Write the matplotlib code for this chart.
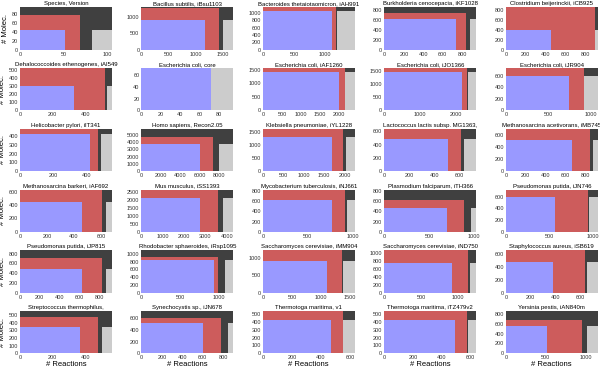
import matplotlib
matplotlib.use("Agg")
import matplotlib.pyplot as plt
from matplotlib.ticker import MaxNLocator

titles = [
    "Species, Version", "Bacillus subtilis, iBsu1103", "Bacteroides thetaiotaomicron, iAH991",
    "Burkholderia cenocepacia, iKF1028", "Clostridium beijerinckii, iCB925",
    "Dehalococcoides ethenogenes, iAI549", "Escherichia coli, core", "Escherichia coli, iAF1260",
    "Escherichia coli, iJO1366", "Escherichia coli, iJR904",
    "Helicobacter pylori, iIT341", "Homo sapiens, Recon2.05", "Klebsiella pneumoniae, iYL1228",
    "Lactococcus lactis subsp. MG1363,", "Methanosarcina acetivorans, iMB745",
    "Methanosarcina barkeri, iAF692", "Mus musculus, iSS1393", "Mycobacterium tuberculosis, iNJ661",
    "Plasmodium falciparum, iTH366", "Pseudomonas putida, iJN746",
    "Pseudomonas putida, iJP815", "Rhodobacter sphaeroides, iRsp1095", "Saccharomyces cerevisiae, iMM904",
    "Saccharomyces cerevisiae, iND750", "Staphylococcus aureus, iSB619",
    "Streptococcus thermophilus,", "Synechocystis sp., iJN678", "Thermotoga maritima, v1",
    "Thermotoga maritima, iTZ479v2", "Yersinia pestis, iAN840m",
]
total_rx  = [105, 1700, 1480, 943, 925, 560, 95, 2400, 2560, 1080,
             554, 9440, 2250, 730, 925, 680, 4300, 1020, 1030, 1055,
             926, 1183, 1580, 1250, 740, 561, 897, 632, 640, 1148]
total_mol = [95, 1310, 1150, 857, 850, 530, 72, 1570, 1600, 740,
             485, 5820, 1640, 640, 700, 630, 2650, 826, 830, 720,
             870, 1090, 1220, 1055, 650, 553, 720, 540, 540, 860]
red_rx    = [69, 1435, 1185, 843, 900, 519, 72, 2144, 2300, 920,
             470, 7350, 1970, 613, 850, 605, 3590, 915, 893, 940,
             825, 987, 1370, 1140, 636, 475, 782, 555, 576, 958]
red_mol   = [78, 1280, 1150, 747, 850, 530, 72, 1570, 1600, 740,
             485, 4680, 1640, 640, 700, 630, 2650, 826, 624, 720,
             710, 920, 1220, 1055, 650, 475, 607, 540, 540, 675]
blue_rx   = [52, 1172, 1110, 736, 456, 330, 72, 2000, 2170, 742,
             426, 6070, 1700, 504, 670, 462, 2750, 768, 700, 570,
             623, 935, 1110, 915, 380, 367, 604, 467, 493, 510]
blue_mol  = [43, 925, 1060, 612, 390, 300, 72, 1441, 1450, 600,
             424, 3770, 1340, 483, 520, 450, 2150, 630, 475, 590,
             482, 850, 900, 750, 465, 345, 523, 420, 420, 550]
gray_rx   = [83, 1517, 1200, 883, 900, 534, 72, 2144, 2330, 920,
             487, 7980, 2030, 635, 875, 640, 3830, 934, 968, 957,
             869, 1074, 1385, 1170, 655, 500, 842, 555, 580, 1021]

DARK = "#404040"
RED = "#cd5c5c"
BLUE = "#9999ff"
LIGHT = "#cccccc"

plt.rcParams["font.family"] = ["Liberation Sans", "DejaVu Sans"]

fig, axes = plt.subplots(6, 5, figsize=(6.0, 3.68), dpi=100)
fig.subplots_adjust(left=0.0333, right=0.996, top=0.980, bottom=0.040,
                    wspace=0.325, hspace=0.44)

for i, ax in enumerate(axes.flat):
    tx, ty = total_rx[i], total_mol[i]
    ax.bar(0, ty, width=tx, align="edge", color=DARK, linewidth=0)
    ax.bar(0, red_mol[i], width=red_rx[i], align="edge", color=RED, linewidth=0)
    ax.bar(gray_rx[i], blue_mol[i], width=tx - gray_rx[i], align="edge", color=LIGHT, linewidth=0)
    ax.bar(0, blue_mol[i], width=blue_rx[i], align="edge", color=BLUE, linewidth=0)
    ax.set_xlim(0, tx)
    ax.set_ylim(0, ty)
    ax.xaxis.set_major_locator(MaxNLocator(nbins=5, steps=[1, 2, 5, 10]))
    ax.yaxis.set_major_locator(MaxNLocator(nbins=6, steps=[1, 2, 5, 10]))
    for s in ax.spines.values():
        s.set_visible(False)
    ax.tick_params(axis="both", length=0, pad=1.5, labelsize=4.0, colors="#333333")
    ax.set_title(titles[i], fontsize=4.3, pad=1.5)
    if i % 5 == 0:
        ax.set_ylabel("# Molec.", fontsize=5.5, labelpad=2)
    if i >= 25:
        ax.set_xlabel("# Reactions", fontsize=5.5, labelpad=0.5)

fig.savefig("out.png", dpi=100)
